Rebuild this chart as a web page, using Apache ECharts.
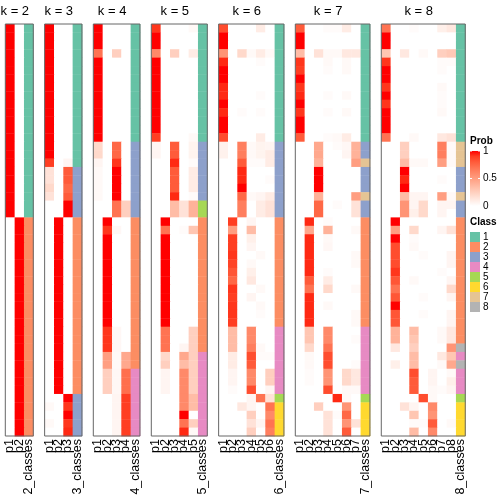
<!DOCTYPE html>
<html><head><meta charset="utf-8">
<script src="https://cdn.jsdelivr.net/npm/echarts@6/dist/echarts.min.js"></script>
<style>html,body{margin:0;padding:0;background:#fff}#c{width:504px;height:504px}</style>
</head><body><div id="c"></div>
<script>
// ---- data: per k, rows of membership probabilities p1..pk (49 samples) ----
const ks = [2,3,4,5,6,7,8];
const probK2 = [
[1,0],[1,0],[1,0],[1,0],[1,0],[1,0],[1,0],[1,0],[1,0],[1,0],
[1,0],[1,0],[1,0],[1,0],[1,0],[1,0],[1,0],[1,0],[1,0],[1,0],
[1,0],[1,0],[1,0],[0,1],[0,1],[0,1],[0,1],[0,1],[0,1],[0,1],
[0,1],[0,1],[0,1],[0,1],[0,1],[0,1],[0,1],[0,1],[0,1],[0,1],
[0,1],[0,1],[0,1],[0,1],[0,1],[0,1],[0,1],[0,1],[0,1]];
const probK3 = [
[1,0,0],[1,0,0],[1,0,0],[1,0,0],[1,0,0],[1,0,0],[1,0,0],[1,0,0],[1,0,0],[1,0,0],
[1,0,0],[1,0,0],[1,0,0],[1,0,0],[1,0,0],[1,0,0],[0.9,0,0.05],[0.15,0,0.8],[0.15,0,0.8],[0.2,0,0.75],
[0.15,0,0.8],[0,0,1],[0,0,1],[0,1,0],[0,1,0],[0,1,0],[0,1,0],[0,1,0],[0,1,0],[0,1,0],
[0,1,0],[0,1,0],[0,1,0],[0,1,0],[0,1,0],[0,1,0],[0,1,0],[0,1,0],[0,1,0],[0,1,0],
[0,1,0],[0,1,0],[0,1,0],[0,1,0],[0,0,1],[0.03,0,0.92],[0,0,1],[0.03,0,0.92],[0,0,0.95]];
const probK4 = [
[1,0,0,0],[1,0,0,0],[1,0,0,0],[0.7,0,0.25,0],[1,0,0,0],[1,0,0,0],[1,0,0,0],[1,0,0,0],[1,0,0,0],[1,0,0,0],
[1,0,0,0],[1,0,0,0],[1,0,0,0],[1,0,0,0],[0.2,0,0.75,0],[0.2,0,0.75,0],[0.05,0,0.92,0],[0.03,0,1,0],[0.03,0,1,0],[0.03,0,1,0],
[0.03,0,1,0],[0,0,0.7,0.25],[0,0,0.7,0.25],[0,1,0,0],[0,0.92,0.04,0],[0,1,0,0],[0,1,0,0],[0,1,0,0],[0,1,0,0],[0,1,0,0],
[0,1,0,0],[0,1,0,0],[0,1,0,0],[0,1,0,0],[0,1,0,0],[0,1,0,0],[0,0.92,0.04,0],[0,0.92,0.04,0],[0,0.92,0.04,0],[0,0.5,0.03,0.45],
[0,0.5,0.03,0.45],[0,0.25,0.04,0.72],[0,0.25,0.04,0.72],[0,0.25,0.04,0.72],[0,0,0.05,0.9],[0,0,0.05,0.9],[0,0,0.05,0.9],[0,0,0.05,0.9],[0,0,0.05,0.9]];
const probK5 = [
[0.92,0,0,0,0.03],[1,0,0,0,0],[1,0,0,0,0],[0.6,0,0.25,0,0.1],[1,0,0,0,0],[1,0,0,0,0],[1,0,0,0,0],[1,0,0,0,0],[1,0,0,0,0],[1,0,0,0,0],
[1,0,0,0,0],[1,0,0,0,0],[1,0,0,0,0],[0.9,0,0,0,0.03],[0.05,0,0.8,0,0.06],[0.05,0,0.8,0,0.06],[0,0,0.95,0,0.02],[0,0,0.8,0,0.1],[0,0,0.8,0,0.1],[0,0,0.8,0,0.1],
[0,0,0.95,0,0.02],[0,0,0.35,0.15,0.4],[0,0,0.35,0.15,0.4],[0,1,0,0,0],[0,0.7,0,0.02,0.3],[0,1,0,0,0],[0,1,0,0,0],[0,1,0,0,0],[0,1,0,0,0],[0,1,0,0,0],
[0,1,0,0,0],[0,1,0,0,0],[0,1,0,0,0],[0,1,0,0,0],[0,1,0,0,0],[0,1,0,0,0],[0,0.7,0,0,0.25],[0,0.7,0,0,0.25],[0,0.7,0,0.05,0.25],[0,0.2,0,0.45,0.25],
[0,0.25,0,0.35,0.25],[0,0.05,0,0.6,0.25],[0,0.05,0,0.6,0.25],[0,0.05,0,0.6,0.25],[0,0,0,0.6,0.35],[0,0,0,0.6,0.35],[0,0,0,1,0],[0,0,0,0.7,0.25],[0,0,0,0.95,0.03]];
const probK6 = [
[0.85,0,0,0,0.1,0],[1,0,0,0,0,0],[1,0,0,0,0,0],[0.55,0,0.2,0.03,0.1,0.03],[0.95,0,0,0,0.02,0],[1,0,0,0,0,0],[1,0,0,0,0,0],[0.95,0,0,0,0,0],[0.95,0,0,0,0.02,0],[1,0,0,0,0,0],
[0.95,0,0.02,0,0.02,0],[1,0,0,0,0,0],[1,0,0,0,0,0],[0.85,0,0,0,0.1,0],[0.07,0,0.65,0.03,0.06,0.05],[0.07,0,0.65,0.03,0.06,0.1],[0,0,0.8,0.02,0.02,0.1],[0,0,0.95,0,0,0],[0,0,0.95,0,0,0.02],[0,0,1,0,0,0],
[0,0,0.75,0.03,0.05,0.1],[0,0,0.65,0,0.1,0.15],[0,0,0.65,0,0.1,0.15],[0,0.9,0,0.05,0,0],[0,0.5,0,0.35,0,0],[0,0.9,0,0.08,0,0],[0,0.9,0,0.05,0,0],[0,0.92,0,0,0.03,0],[0,0.88,0,0.03,0,0],[0,0.82,0,0.08,0,0],
[0,0.75,0,0.12,0,0],[0,0.92,0,0,0.03,0],[0,0.9,0,0.05,0,0],[0,0.92,0,0,0.03,0],[0,0.92,0,0,0.02,0],[0,0.9,0,0,0,0],[0,0.35,0,0.6,0,0],[0,0.35,0,0.6,0,0],[0,0.35,0,0.65,0.03,0],[0,0.1,0,0.85,0.02,0.02],
[0,0.1,0,0.8,0,0],[0,0.05,0,0.6,0,0.25],[0,0.05,0,0.6,0,0.25],[0,0.02,0,0.85,0,0.05],[0,0,0,0.05,0.7,0.15],[0,0,0.12,0.05,0,0.7],[0,0,0,0.25,0,0.6],[0,0,0,0.15,0.05,0.7],[0,0,0,0.25,0,0.65]];
const probK7 = [
[0.8,0,0,0.02,0.02,0.1,0],[1,0,0,0,0,0,0],[1,0,0,0,0,0,0],[0.35,0,0.15,0.03,0.03,0.12,0.12],[0.92,0,0,0.03,0,0.03,0],[0.9,0,0,0.02,0,0.03,0],[1,0,0,0,0,0,0],[0.92,0,0,0,0,0,0],[0.95,0,0,0.02,0,0.03,0],[1,0,0,0,0,0,0],
[0.92,0,0,0.02,0,0.03,0],[1,0,0,0,0,0,0],[1,0,0,0,0,0,0],[0.8,0,0,0.02,0.03,0.1,0],[0,0,0.45,0,0.02,0.04,0.4],[0,0,0.45,0,0,0.05,0.4],[0,0,0.4,0,0,0,0.5],[0,0,1,0,0,0,0],[0,0,1,0,0,0,0],[0,0,1,0,0,0,0],
[0,0,0.4,0,0,0,0.5],[0,0,0.75,0,0.02,0,0.15],[0,0,0.75,0,0,0,0.15],[0,0.95,0,0.02,0,0,0],[0,0.45,0,0.4,0,0,0.03],[0,0.95,0,0.03,0,0,0],[0,0.95,0,0.04,0,0,0],[0,0.95,0,0,0,0,0.03],[0,0.95,0,0,0,0,0.03],[0,0.95,0,0.02,0,0,0],
[0,0.8,0,0.1,0,0,0],[0,0.7,0,0.2,0,0,0.03],[0,0.95,0,0,0,0,0],[0,0.95,0,0.03,0,0,0],[0,0.95,0,0,0,0,0.03],[0,0.95,0,0,0,0,0.03],[0,0.3,0,0.6,0,0,0],[0,0.3,0,0.6,0,0,0.02],[0,0.2,0,0.7,0,0,0],[0,0.03,0,0.85,0,0,0],
[0,0.03,0,0.85,0,0,0.02],[0,0.02,0,0.55,0,0.2,0.12],[0,0.02,0,0.55,0,0.2,0.12],[0,0,0,0.85,0,0.03,0.03],[0,0,0,0,0.95,0.03,0],[0,0,0.25,0,0,0.55,0],[0,0,0,0.15,0.02,0.75,0],[0,0,0,0.15,0,0.55,0.15],[0,0,0,0.15,0,0.8,0]];
const probK8 = [
[0.7,0,0,0.02,0,0,0.08,0.12],[1,0,0,0,0,0,0,0],[1,0,0,0,0,0,0,0],[0.3,0,0.12,0,0.03,0,0.25,0.28],[0.92,0,0,0,0,0,0.02,0.02],[1,0,0,0,0,0,0.02,0],[1,0,0,0,0,0,0,0],[0.92,0,0,0,0,0,0.03,0],[1,0,0,0,0,0,0.02,0],[0.92,0,0,0,0,0,0.02,0],
[1,0,0,0,0,0,0.03,0],[1,0,0,0,0,0,0,0],[1,0,0,0,0,0,0,0],[0.7,0,0,0.03,0,0,0.12,0.15],[0,0,0.25,0,0,0,0.65,0.03],[0,0,0.25,0,0,0,0.65,0.03],[0,0,0.35,0.03,0.03,0,0.5,0.03],[0,0,1,0,0,0,0,0],[0,0,0.95,0,0,0,0.02,0],[0,0,1,0,0,0,0,0],
[0,0,0.35,0.05,0.05,0,0.5,0.03],[0,0,0.55,0.05,0.2,0,0.05,0.05],[0,0,0.55,0.08,0.2,0,0.05,0],[0,1,0,0,0,0,0,0],[0,0.5,0,0.2,0,0,0.05,0.15],[0,1,0,0.02,0,0,0,0],[0,0.85,0,0.03,0,0,0,0],[0,0.85,0,0,0.02,0,0,0.05],[0,0.85,0,0,0,0,0,0.05],[0,0.92,0,0,0,0,0.02,0],
[0,0.82,0,0.03,0,0,0,0.05],[0,0.7,0,0,0,0,0,0.2],[0,0.82,0,0,0.02,0,0,0.05],[0,1,0,0,0,0,0,0],[0,0.82,0,0,0.02,0,0,0.05],[0,0.82,0,0,0,0,0,0.05],[0,0.4,0,0.35,0,0,0.03,0.12],[0,0.4,0,0.3,0,0,0.03,0.12],[0,0.12,0,0.25,0,0,0,0.55],[0,0,0,0.35,0,0,0.12,0.3],
[0,0.08,0,0.35,0,0,0.03,0.45],[0,0,0,0.85,0,0.05,0,0.03],[0,0,0,0.8,0,0.05,0,0.08],[0,0,0,0.8,0,0.03,0.02,0.05],[0,0,0,0,0.85,0.03,0,0],[0,0,0.15,0.05,0,0.6,0,0],[0,0,0,0.3,0,0.55,0,0],[0,0,0,0.02,0.02,0.8,0,0.03],[0,0,0,0.35,0,0.6,0,0]];

// ---- class assignment per sample ----
const classK2 = [1,1,1,1,1,1,1,1,1,1,1,1,1,1,1,1,1,1,1,1,1,1,1,2,2,2,2,2,2,2,2,2,2,2,2,2,2,2,2,2,2,2,2,2,2,2,2,2,2];
const classK3 = [1,1,1,1,1,1,1,1,1,1,1,1,1,1,1,1,1,3,3,3,3,3,3,2,2,2,2,2,2,2,2,2,2,2,2,2,2,2,2,2,2,2,2,2,3,3,3,3,3];
const classK4 = [1,1,1,1,1,1,1,1,1,1,1,1,1,1,3,3,3,3,3,3,3,3,3,2,2,2,2,2,2,2,2,2,2,2,2,2,2,2,2,2,2,4,4,4,4,4,4,4,4];
const classK5 = [1,1,1,1,1,1,1,1,1,1,1,1,1,1,3,3,3,3,3,3,3,5,5,2,2,2,2,2,2,2,2,2,2,2,2,2,2,2,2,4,4,4,4,4,4,4,4,4,4];
const classK6 = [1,1,1,1,1,1,1,1,1,1,1,1,1,1,3,3,3,3,3,3,3,3,3,2,2,2,2,2,2,2,2,2,2,2,2,2,4,4,4,4,4,4,4,4,5,6,6,6,6];
const classK7 = [1,1,1,1,1,1,1,1,1,1,1,1,1,1,3,3,7,3,3,3,7,3,3,2,2,2,2,2,2,2,2,2,2,2,2,2,4,4,4,4,4,4,4,4,5,6,6,6,6];
const classK8 = [1,1,1,1,1,1,1,1,1,1,1,1,1,1,7,7,7,3,3,3,7,3,3,2,2,2,2,2,2,2,2,2,2,2,2,2,2,2,8,4,8,4,4,4,5,6,6,6,6];
const classColors = ['#66C2A5','#FC8D62','#8DA0CB','#E78AC3','#A6D854','#FFD92F','#E5C494','#B3B3B3'];
const classLabels = ['1','2','3','4','5','6','7','8'];
const probTicks = ['1','0.5','0'];

const probsByK = [probK2, probK3, probK4, probK5, probK6, probK7, probK8];
const classByK = [classK2, classK3, classK4, classK5, classK6, classK7, classK8];

// ---- colour ramp white -> red in LAB ----
function lin(c){c/=255;return c<=0.04045?c/12.92:Math.pow((c+0.055)/1.055,2.4);}
function unlin(c){c=c<=0.0031308?12.92*c:1.055*Math.pow(c,1/2.4)-0.055;return Math.round(Math.max(0,Math.min(1,c))*255);}
function toLab(r,g,b){
  const R=lin(r),G=lin(g),B=lin(b);
  const X=(0.4124*R+0.3576*G+0.1805*B)/0.95047,Y=0.2126*R+0.7152*G+0.0722*B,Z=(0.0193*R+0.1192*G+0.9505*B)/1.08883;
  const f=t=>t>0.008856?Math.cbrt(t):7.787*t+16/116;
  const fx=f(X),fy=f(Y),fz=f(Z);
  return [116*fy-16,500*(fx-fy),200*(fy-fz)];
}
function fromLab(L,a,b){
  const fy=(L+16)/116,fx=fy+a/500,fz=fy-b/200;
  const fi=t=>{const t3=t*t*t;return t3>0.008856?t3:(t-16/116)/7.787;};
  const X=fi(fx)*0.95047,Y=fi(fy),Z=fi(fz)*1.08883;
  const R=3.2406*X-1.5372*Y-0.4986*Z,G=-0.9689*X+1.8758*Y+0.0415*Z,B=0.0557*X-0.2040*Y+1.0570*Z;
  return 'rgb('+unlin(R)+','+unlin(G)+','+unlin(B)+')';
}
const labW=toLab(255,255,255), labR=toLab(255,0,0);
function probColor(v){
  v=Math.max(0,Math.min(1,v));
  return fromLab(labW[0]+(labR[0]-labW[0])*v,labW[1]+(labR[1]-labW[1])*v,labW[2]+(labR[2]-labW[2])*v);
}

// ---- layout ----
const FONT='"Liberation Sans", Arial, sans-serif';
const colW=9.33, gapW=11.35, x0=5.3, topY=24, H=412;
const nRows=probK2.length;
const rowCats=[];for(let i=0;i<nRows;i++)rowCats.push(String(i));

const grids=[],xAxes=[],yAxes=[],series=[],graphics=[];
let curLeft=x0;
ks.forEach((k,i)=>{
  const w=(k+1)*colW;
  grids.push({left:curLeft,top:topY,width:w,height:H,containLabel:false});
  const cats=[];for(let j=1;j<=k;j++)cats.push('p'+j);cats.push(k+'_classes');
  xAxes.push({type:'category',gridIndex:i,data:cats,position:'bottom',
    axisLine:{show:false},axisTick:{show:false},splitLine:{show:false},
    axisLabel:{rotate:90,interval:0,margin:3,fontSize:12.5,color:'#000',fontFamily:FONT}});
  yAxes.push({type:'category',gridIndex:i,data:rowCats,inverse:true,show:false});
  const data=[];
  const P=probsByK[i],C=classByK[i];
  for(let r=0;r<nRows;r++){
    for(let c=0;c<k;c++)data.push([c,r,P[r][c],0]);
    data.push([k,r,C[r],1]);
  }
  series.push({type:'custom',xAxisIndex:i,yAxisIndex:i,data:data,silent:true,
    renderItem:function(params,api){
      const p=api.coord([api.value(0),api.value(1)]);
      const s=api.size([1,1]);
      const isClass=api.value(3)===1;
      const col=isClass?classColors[api.value(2)-1]:probColor(api.value(2));
      return {type:'rect',shape:{x:p[0]-s[0]/2,y:p[1]-s[1]/2,width:s[0]+0.4,height:s[1]+0.4},
        style:{fill:col,stroke:null}};
    }});
  graphics.push({type:'rect',shape:{x:curLeft,y:topY,width:w,height:H},
    style:{fill:null,stroke:'#666',lineWidth:1},z:100});
  graphics.push({type:'text',x:curLeft+w/2-4.5,y:11,style:{text:'k = '+k,font:'13px '+FONT,fill:'#000',
    textAlign:'center',textVerticalAlign:'middle'},z:100});
  curLeft+=w+gapW;
});

// legend: Prob
const lx=470;
graphics.push({type:'text',x:lx,y:141,style:{text:'Prob',font:'bold 10px '+FONT,fill:'#000',textVerticalAlign:'middle'}});
const stops=[];for(let t=0;t<=10;t++)stops.push({offset:t/10,color:probColor(1-t/10)});
graphics.push({type:'rect',shape:{x:lx,y:151,width:10,height:55},
  style:{fill:{type:'linear',x:0,y:0,x2:0,y2:1,colorStops:stops}}});
probTicks.forEach((t,j)=>{
  const y=151+j*27.5;
  graphics.push({type:'text',x:lx+13,y:y,style:{text:t,font:'10px '+FONT,fill:'#000',textVerticalAlign:'middle'}});
  graphics.push({type:'line',shape:{x1:lx,y1:y,x2:lx+2,y2:y},style:{stroke:'#fff',lineWidth:1}});
  graphics.push({type:'line',shape:{x1:lx+8,y1:y,x2:lx+10,y2:y},style:{stroke:'#fff',lineWidth:1}});
});
// legend: Class
graphics.push({type:'text',x:lx,y:222,style:{text:'Class',font:'bold 10px '+FONT,fill:'#000',textVerticalAlign:'middle'}});
classLabels.forEach((t,j)=>{
  const y=232+j*10;
  graphics.push({type:'rect',shape:{x:lx,y:y,width:10,height:10},style:{fill:classColors[j]}});
  graphics.push({type:'text',x:lx+13,y:y+5,style:{text:t,font:'10px '+FONT,fill:'#000',textVerticalAlign:'middle'}});
});

const chart=echarts.init(document.getElementById('c'),null,{renderer:'canvas'});
chart.setOption({animation:false,backgroundColor:'#fff',grid:grids,xAxis:xAxes,yAxis:yAxes,series:series,graphic:graphics});
</script></body></html>
